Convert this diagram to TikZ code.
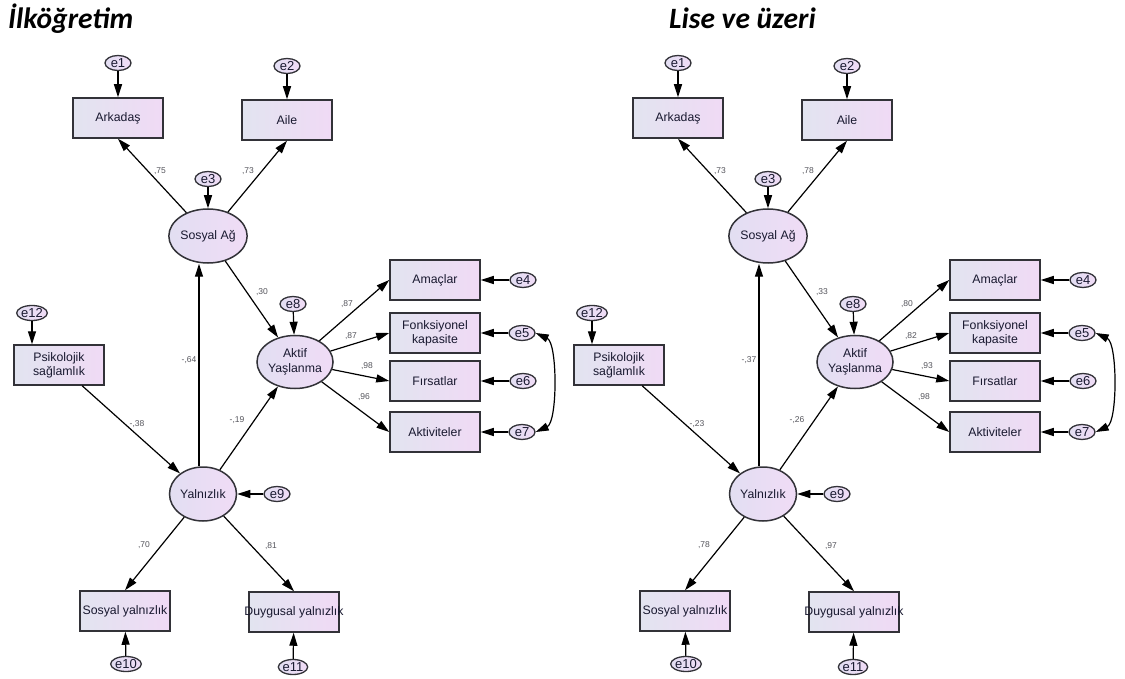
\documentclass[tikz,border=0pt]{standalone}
\usepackage{fontspec}
\setmainfont{Liberation Sans}
\newfontfamily\titlefont{Carlito}
\usetikzlibrary{shapes.geometric,arrows.meta}

\definecolor{boxL}{RGB}{226,228,240}
\definecolor{boxR}{RGB}{240,218,245}
\definecolor{ovL}{RGB}{226,222,242}
\definecolor{ovR}{RGB}{240,220,246}
\definecolor{edgec}{RGB}{50,50,56}
\definecolor{ink}{RGB}{25,25,48}
\definecolor{coefc}{RGB}{85,85,92}

\tikzset{
  obs/.style={draw=edgec, line width=1.5pt, rectangle, minimum width=90pt,
    minimum height=40pt, inner sep=0pt, left color=boxL, right color=boxR,
    text=ink, font=\fontsize{12.3}{14}\selectfont, align=center},
  lat/.style={draw=edgec, line width=1.5pt, ellipse, minimum width=67pt,
    minimum height=54pt, inner sep=0pt, left color=ovL, right color=ovR,
    text=ink, font=\fontsize{12.3}{15}\selectfont, align=center},
  errv/.style={draw=edgec, line width=1.3pt, ellipse, minimum width=26pt,
    minimum height=15pt, inner sep=0pt, left color=ovL, right color=ovR,
    text=ink, font=\fontsize{13}{13}\selectfont},
  reg/.style={draw=black, line width=1.2pt, -{Triangle[length=13pt,width=8pt]}},
  cov/.style={draw=black, line width=1.2pt,
    {Triangle[length=13pt,width=8pt]}-{Triangle[length=13pt,width=8pt]}},
  coefl/.style={font=\fontsize{8.5}{9}\selectfont, text=coefc, inner sep=0pt},
  ttl/.style={font=\titlefont\fontsize{29.5}{31}\selectfont\bfseries\itshape,
    inner sep=0pt, anchor=base west},
}

% One structural model; path coefficients come from \cfA ... \cfL
\newcommand{\drawmodel}{%
  % social network
  \node[errv] (e1) at (118,63) {e1};
  \node[obs] (ark) at (118,118) {Arkadaş};
  \node[errv] (e2) at (287,66) {e2};
  \node[obs] (aile) at (287,120) {Aile};
  \node[errv] (e3) at (208,179) {e3};
  \node[lat] (sos) at (208,236) {Sosyal Ağ};
  % active ageing
  \node[errv] (e8) at (293,304) {e8};
  \node[lat, minimum width=66pt, minimum height=53pt] (akt) at (295,362) {Aktif\\Yaşlanma};
  \node[obs] (ama) at (435,280) {Amaçlar};
  \node[obs] (fon) at (435,333) {Fonksiyonel\\kapasite};
  \node[obs] (fir) at (435,381) {Fırsatlar};
  \node[obs] (akv) at (435,432) {Aktiviteler};
  \node[errv] (e4) at (523,280) {e4};
  \node[errv] (e5) at (522,333) {e5};
  \node[errv] (e6) at (523,381) {e6};
  \node[errv] (e7) at (522,432) {e7};
  % resilience and loneliness
  \node[errv] (e12) at (32,313) {e12};
  \node[obs] (psi) at (59,365) {Psikolojik\\sağlamlık};
  \node[lat] (yal) at (203,494) {Yalnızlık};
  \node[errv] (e9) at (277,494) {e9};
  \node[obs] (syal) at (125,611) {Sosyal yalnızlık};
  \node[obs] (dyal) at (294,612) {\makebox[0pt]{Duygusal yalnızlık}};
  \node[errv] (e10) at (126,664) {e10};
  \node[errv] (e11) at (293,667) {e11};
  % error terms
  \draw[reg] (e1) -- (ark);
  \draw[reg] (e2) -- (aile);
  \draw[reg] (e3) -- (sos);
  \draw[reg] (e8) -- (akt);
  \draw[reg] (e4) -- (ama);
  \draw[reg] (e5) -- (fon);
  \draw[reg] (e6) -- (fir);
  \draw[reg] (e7) -- (akv);
  \draw[reg] (e12.south) -- (e12.south |- psi.north);
  \draw[reg] (e9) -- (yal);
  \draw[reg] (e10) -- (syal);
  \draw[reg] (e11) -- (dyal);
  \draw[cov] (e5.east) .. controls +(22,10) and +(22,-10) .. (e7.east);
  % structural and measurement paths
  \draw[reg] (sos) -- (ark.south);
  \draw[reg] (sos) -- (aile.south);
  \draw[reg] (sos) -- (akt);
  \draw[reg] (akt) -- (ama.west);
  \draw[reg] (akt) -- (fon.west);
  \draw[reg] (akt) -- (fir.west);
  \draw[reg] (akt) -- (akv.west);
  \draw[reg] (psi) -- (yal);
  \coordinate (yt) at ([xshift=-4pt]yal.north);
  \draw[reg] (yt) -- (yt |- sos.south);
  \draw[reg] (yal) -- (akt);
  \draw[reg] (yal) -- (syal.north);
  \draw[reg] (yal) -- (dyal.north);
  % coefficients
  \node[coefl] (kA) at (160,171) {\cfA};
  \node[coefl] (kB) at (248,171) {\cfB};
  \node[coefl] (kC) at (262,292) {\cfC};
  \node[coefl] (kD) at (347,304) {\cfD};
  \node[coefl] (kE) at (351,336) {\cfE};
  \node[coefl] (kF) at (367,366) {\cfF};
  \node[coefl] (kG) at (364,397) {\cfG};
  \node[coefl] (kH) at (189,360) {\cfH};
  \node[coefl] (kI) at (137,424) {\cfI};
  \node[coefl] (kJ) at (237,420) {\cfJ};
  \node[coefl] (kK) at (144,545) {\cfK};
  \node[coefl] (kL) at (271,546) {\cfL};
}

\begin{document}
\begin{tikzpicture}[x=1pt, y=-1pt]
  \useasboundingbox (0,0) rectangle (1125,679);

  \node[ttl] (t1) at (8,29) {İlköğretim};
  \node[ttl] (t2) at (669,29) {Lise ve üzeri};

  \begin{scope}[name prefix=L-]
    \def\cfA{,75}\def\cfB{,73}\def\cfC{,30}\def\cfD{,87}
    \def\cfE{,87}\def\cfF{,98}\def\cfG{,96}\def\cfH{-,64}
    \def\cfI{-,38}\def\cfJ{-,19}\def\cfK{,70}\def\cfL{,81}
    \drawmodel
  \end{scope}

  \begin{scope}[name prefix=R-, shift={(560,0)}]
    \def\cfA{,73}\def\cfB{,78}\def\cfC{,33}\def\cfD{,80}
    \def\cfE{,82}\def\cfF{,93}\def\cfG{,98}\def\cfH{-,37}
    \def\cfI{-,23}\def\cfJ{-,26}\def\cfK{,78}\def\cfL{,97}
    \drawmodel
  \end{scope}
\end{tikzpicture}
\end{document}
